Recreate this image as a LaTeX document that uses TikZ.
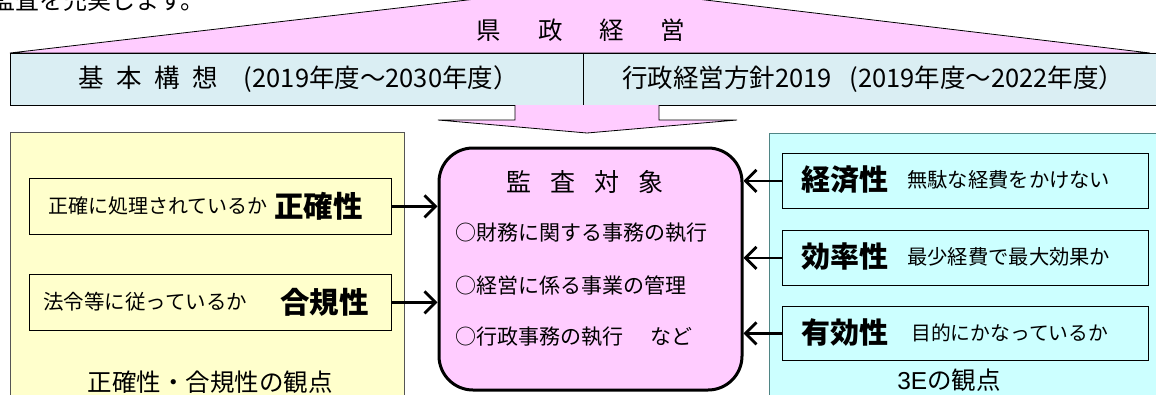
\documentclass[tikz,border=0pt]{standalone}
\usepackage{fontspec}
\setmainfont{Noto Sans CJK JP}
\newfontfamily\arialf{Liberation Sans}
\usetikzlibrary{arrows.meta}
\definecolor{pinkf}{HTML}{FFCCFF}
\definecolor{barf}{HTML}{DAEEF3}
\definecolor{yelf}{HTML}{FFFFCC}
\definecolor{cyanf}{HTML}{CCFFFF}
\definecolor{cyanb}{HTML}{4F8585}
\definecolor{yelb}{HTML}{555555}
\newcommand\fsz[1]{\fontsize{#1}{#1}\selectfont}
\tikzset{
  thin box/.style={draw=black, line width=0.8pt, inner sep=0, anchor=north west},
  txt/.style={inner sep=0, anchor=west},
  ctxt/.style={inner sep=0},
  arr/.style={line width=2.8pt, -{Straight Barb[length=11pt,width=22pt]}},
}
\begin{document}
\begin{tikzpicture}[x=1pt,y=-1pt]
\useasboundingbox (0,0) rectangle (1156,394);
\clip (0,0) rectangle (1156,394);

% lead text (cut off at top, as in the reference)
\node[inner sep=0, anchor=base west] (lead) at (-9,9) {\fsz{24}監査を充実します。};

% roof
\draw[fill=pinkf, line width=0.8pt] (10,53) -- (588,-14) -- (1150,53) -- cycle;
\node[ctxt] (kensei) at (581,30) {\fsz{24.5}県\hspace{1.5em}政\hspace{1.5em}経\hspace{1.5em}営};

% bar
\node[thin box, fill=barf, minimum width=573, minimum height=52] (kihon) at (10,53) {};
\node[thin box, fill=barf, minimum width=600, minimum height=52] (hoshin) at (583,53) {};
\node[txt] (kihont) at (78,79) {\fsz{25.5}基\hspace{.5em}本\hspace{.5em}構\hspace{.5em}想\hspace{1.0em}(2019年度〜2030年度）};
\node[txt] (hoshint) at (622,79) {\fsz{25.5}行政経営方針2019\hspace{.7em}(2019年度〜2022年度）};

% down block arrow
\draw[fill=pinkf, line width=0.8pt] (515,105) -- (515,120) -- (438,120) -- (587,133) -- (737,120) -- (659,120) -- (659,105);

% left panel
\node[thin box, draw=yelb, fill=yelf, minimum width=394, minimum height=280] (left) at (10,132) {};
\node[thin box, fill=yelf, minimum width=362, minimum height=56] (acc) at (29,178) {};
\node[thin box, fill=yelf, minimum width=362, minimum height=56] (leg) at (29,274) {};
\node[txt] (acct) at (48,206) {\fsz{20}正確に処理されているか};
\node[txt] (accb) at (274,206) {\fsz{29.5}\bfseries 正確性};
\node[txt] (legt) at (43,302) {\fsz{20.5}法令等に従っているか};
\node[txt] (legb) at (280,302) {\fsz{29.5}\bfseries 合規性};
\node[ctxt] (leftlbl) at (210,382) {\fsz{24.5}正確性・合規性の観点};

% right panel
\node[thin box, draw=cyanb, fill=cyanf, minimum width=420, minimum height=280] (right) at (769,133) {};
\node[thin box, fill=cyanf, minimum width=366, minimum height=55] (eco) at (782,153) {};
\node[thin box, fill=cyanf, minimum width=366, minimum height=55] (eff) at (782,230) {};
\node[thin box, fill=cyanf, minimum width=366, minimum height=54] (efv) at (782,306) {};
\node[txt] (ecob) at (801,180) {\fsz{29}\bfseries 経済性};
\node[txt] (ecot) at (907,180) {\fsz{20.3}無駄な経費をかけない};
\node[txt] (effb) at (801,257) {\fsz{29}\bfseries 効率性};
\node[txt] (efft) at (907,257) {\fsz{20.3}最少経費で最大効果か};
\node[txt] (efvb) at (801,333) {\fsz{29}\bfseries 有効性};
\node[txt] (efvt) at (911,333) {\fsz{19.8}目的にかなっているか};
\node[ctxt] (rightlbl) at (949,380) {\fsz{24.5}{\arialf 3E}の観点};

% audit object
\node[draw=black, fill=pinkf, line width=3pt, rounded corners=34pt, inner sep=0,
      anchor=north west, minimum width=303, minimum height=242] (obj) at (437.5,146.5) {};
\node[ctxt] (objt) at (585,182) {\fsz{25}監\hspace{.75em}査\hspace{.75em}対\hspace{.75em}象};
\node[txt] (obj1) at (455,233) {\fsz{21}○財務に関する事務の執行};
\node[txt] (obj2) at (455,285) {\fsz{21}○経営に係る事業の管理};
\node[txt] (obj3) at (455,337) {\fsz{21}○行政事務の執行\hspace{1.3em}など};

% connectors
\draw[arr] (acc.east) -- (acc.east -| obj.west);
\draw[arr] (leg.east) -- (leg.east -| obj.west);
\draw[arr] (eco.west) -- (eco.west -| obj.east);
\draw[arr] (eff.west) -- (eff.west -| obj.east);
\draw[arr] (efv.west) -- (efv.west -| obj.east);
\end{tikzpicture}
\end{document}
